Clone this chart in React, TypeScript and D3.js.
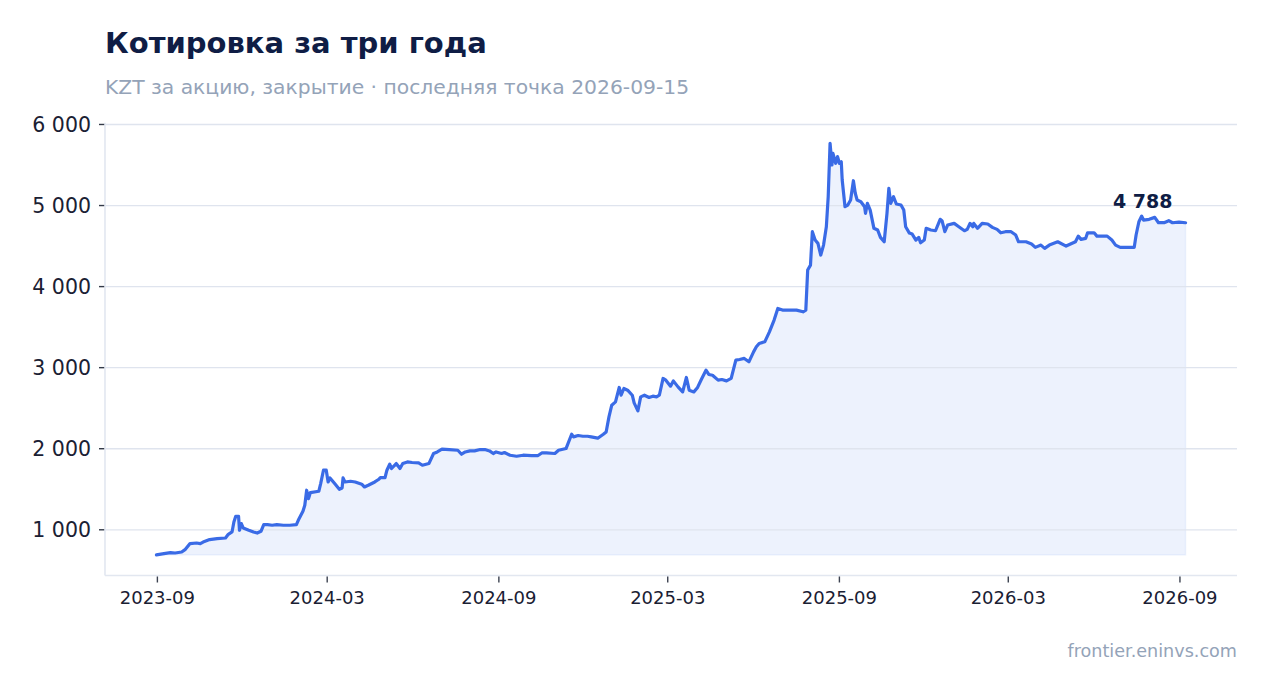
import React from 'react';
import * as d3 from 'd3';

const dates = [
  '2023-08-31', '2023-09-08', '2023-09-15', '2023-09-20', '2023-09-27', '2023-10-01', '2023-10-06', '2023-10-13',
  '2023-10-17', '2023-10-20', '2023-10-27', '2023-11-04', '2023-11-13', '2023-11-16', '2023-11-20', '2023-11-22',
  '2023-11-24', '2023-11-27', '2023-11-28', '2023-11-30', '2023-12-02', '2023-12-08', '2023-12-13', '2023-12-17',
  '2023-12-21', '2023-12-24', '2023-12-28', '2024-01-02', '2024-01-07', '2024-01-14', '2024-01-21', '2024-01-28',
  '2024-01-30', '2024-02-04', '2024-02-06', '2024-02-08', '2024-02-10', '2024-02-12', '2024-02-21', '2024-02-23',
  '2024-02-26', '2024-02-29', '2024-03-02', '2024-03-04', '2024-03-09', '2024-03-14', '2024-03-17', '2024-03-18',
  '2024-03-20', '2024-03-26', '2024-03-31', '2024-04-07', '2024-04-10', '2024-04-14', '2024-04-21', '2024-04-25',
  '2024-04-27', '2024-05-02', '2024-05-04', '2024-05-07', '2024-05-09', '2024-05-14', '2024-05-18', '2024-05-21',
  '2024-05-26', '2024-05-31', '2024-06-07', '2024-06-11', '2024-06-18', '2024-06-23', '2024-06-27', '2024-07-02',
  '2024-07-10', '2024-07-19', '2024-07-23', '2024-07-27', '2024-08-01', '2024-08-06', '2024-08-12', '2024-08-17',
  '2024-08-22', '2024-08-26', '2024-08-29', '2024-09-04', '2024-09-07', '2024-09-13', '2024-09-20', '2024-09-27',
  '2024-10-06', '2024-10-13', '2024-10-17', '2024-10-22', '2024-10-31', '2024-11-04', '2024-11-12', '2024-11-18',
  '2024-11-20', '2024-11-25', '2024-11-30', '2024-12-05', '2024-12-09', '2024-12-16', '2024-12-22', '2024-12-25',
  '2024-12-28', '2024-12-31', '2025-01-04', '2025-01-08', '2025-01-10', '2025-01-13', '2025-01-17', '2025-01-22',
  '2025-01-24', '2025-01-28', '2025-01-31', '2025-02-04', '2025-02-09', '2025-02-13', '2025-02-17', '2025-02-20',
  '2025-02-24', '2025-02-27', '2025-03-04', '2025-03-07', '2025-03-12', '2025-03-17', '2025-03-21', '2025-03-24',
  '2025-03-29', '2025-04-02', '2025-04-06', '2025-04-11', '2025-04-14', '2025-04-18', '2025-04-24', '2025-04-28',
  '2025-05-03', '2025-05-08', '2025-05-13', '2025-05-17', '2025-05-22', '2025-05-27', '2025-06-01', '2025-06-04',
  '2025-06-07', '2025-06-13', '2025-06-18', '2025-06-23', '2025-06-27', '2025-07-02', '2025-07-09', '2025-07-17',
  '2025-07-24', '2025-07-27', '2025-07-29', '2025-08-01', '2025-08-03', '2025-08-06', '2025-08-09', '2025-08-12',
  '2025-08-15', '2025-08-18', '2025-08-20', '2025-08-22', '2025-08-24', '2025-08-25', '2025-08-28', '2025-08-30',
  '2025-09-01', '2025-09-03', '2025-09-04', '2025-09-07', '2025-09-10', '2025-09-13', '2025-09-16', '2025-09-18',
  '2025-09-20', '2025-09-24', '2025-09-28', '2025-09-29', '2025-10-01', '2025-10-04', '2025-10-08', '2025-10-12',
  '2025-10-15', '2025-10-19', '2025-10-22', '2025-10-24', '2025-10-26', '2025-10-29', '2025-11-01', '2025-11-06',
  '2025-11-09', '2025-11-11', '2025-11-15', '2025-11-18', '2025-11-22', '2025-11-25', '2025-11-27', '2025-12-01',
  '2025-12-03', '2025-12-08', '2025-12-13', '2025-12-18', '2025-12-20', '2025-12-23', '2025-12-26', '2026-01-02',
  '2026-01-07', '2026-01-13', '2026-01-16', '2026-01-19', '2026-01-22', '2026-01-23', '2026-01-27', '2026-02-01',
  '2026-02-07', '2026-02-12', '2026-02-17', '2026-02-21', '2026-02-26', '2026-03-04', '2026-03-09', '2026-03-12',
  '2026-03-20', '2026-03-26', '2026-03-30', '2026-04-05', '2026-04-09', '2026-04-14', '2026-04-23', '2026-05-02',
  '2026-05-12', '2026-05-15', '2026-05-18', '2026-05-23', '2026-05-25', '2026-06-01', '2026-06-04', '2026-06-15',
  '2026-06-20', '2026-06-24', '2026-06-29', '2026-07-06', '2026-07-14', '2026-07-16', '2026-07-19', '2026-07-22',
  '2026-07-24', '2026-07-30', '2026-08-05', '2026-08-09', '2026-08-15', '2026-08-20', '2026-08-24', '2026-08-31',
  '2026-09-07',
];

const closes = [
  690, 705, 718, 714, 726, 759, 830, 837,
  830, 849, 879, 891, 899, 944, 973, 1096,
  1167, 1167, 994, 1077, 1022, 994, 973, 960,
  981, 1064, 1064, 1056, 1064, 1056, 1056, 1064,
  1117, 1228, 1302, 1488, 1385, 1459, 1475, 1570,
  1735, 1735, 1590, 1640, 1570, 1500, 1516, 1640,
  1590, 1599, 1590, 1562, 1528, 1549, 1590, 1620,
  1644, 1644, 1735, 1809, 1756, 1817, 1756, 1817,
  1837, 1830, 1825, 1796, 1817, 1941, 1960, 1994,
  1990, 1981, 1932, 1960, 1973, 1973, 1990, 1990,
  1973, 1941, 1960, 1941, 1953, 1920, 1907, 1920,
  1916, 1916, 1948, 1948, 1941, 1981, 2002, 2179,
  2146, 2163, 2154, 2154, 2146, 2130, 2179, 2207,
  2393, 2537, 2578, 2756, 2660, 2743, 2722, 2660,
  2565, 2467, 2640, 2660, 2632, 2648, 2640, 2660,
  2867, 2846, 2772, 2837, 2763, 2701, 2879, 2722,
  2701, 2756, 2854, 2969, 2916, 2907, 2846, 2854,
  2837, 2867, 3093, 3101, 3114, 3072, 3195, 3257,
  3299, 3319, 3442, 3587, 3731, 3710, 3710, 3710,
  3689, 3710, 4204, 4265, 4677, 4574, 4533, 4389,
  4512, 4738, 5109, 5768, 5500, 5645, 5521, 5603,
  5521, 5541, 5315, 4985, 5006, 5068, 5306, 5151,
  5068, 5047, 4985, 4904, 5027, 4944, 4719, 4698,
  4607, 4553, 4904, 5212, 5027, 5109, 5019, 5006,
  4944, 4738, 4660, 4648, 4574, 4607, 4541, 4574,
  4719, 4698, 4689, 4830, 4813, 4677, 4759, 4780,
  4738, 4689, 4706, 4780, 4738, 4780, 4719, 4780,
  4772, 4731, 4706, 4664, 4677, 4677, 4636, 4553,
  4553, 4525, 4484, 4512, 4472, 4512, 4553, 4500,
  4553, 4623, 4583, 4595, 4664, 4664, 4623, 4623,
  4574, 4512, 4484, 4484, 4484, 4636, 4800, 4870,
  4821, 4830, 4854, 4788, 4788, 4813, 4788, 4796,
  4788,
];

const xTickLabels = ['2023-09', '2024-03', '2024-09', '2025-03', '2025-09', '2026-03', '2026-09'];
const yTickValues = [1000, 2000, 3000, 4000, 5000, 6000];

const title = 'Котировка за три года';
const subtitle = 'KZT за акцию, закрытие · последняя точка 2026-09-15';
const source = 'frontier.eninvs.com';

const W = 1267;
const H = 693;
const left = 105;
const right = 1237;
const top = 122.7;
const bottom = 575.5;
const font = '"DejaVu Sans", sans-serif';

const parseDay = d3.utcParse('%Y-%m-%d');
const parseMonth = d3.utcParse('%Y-%m');
const fmt = (v: number) => d3.format(',')(v).replace(/,/g, ' ');

export default function App() {
  const points = dates.map((d, i) => ({ date: parseDay(d) as Date, value: closes[i] }));

  const [t0, t1] = d3.extent(points, (p) => +p.date) as [number, number];
  const tPad = (t1 - t0) * 0.05;
  const x = d3.scaleUtc().domain([new Date(t0 - tPad), new Date(t1 + tPad)]).range([left, right]);

  const [v0, v1] = d3.extent(closes) as [number, number];
  const vPad = (v1 - v0) * 0.05;
  const y = d3.scaleLinear().domain([v0 - vPad, v1 + vPad]).range([bottom, top]);

  const line = d3
    .line<{ date: Date; value: number }>()
    .x((p) => x(p.date))
    .y((p) => y(p.value));

  const area = d3
    .area<{ date: Date; value: number }>()
    .x((p) => x(p.date))
    .y0(y(v0))
    .y1((p) => y(p.value));

  const last = points[points.length - 1];
  const lx = x(last.date);
  const ly = y(last.value);

  return (
    <svg
      width={W}
      height={H}
      style={{ position: 'absolute', left: 0, top: 0, background: '#fff' }}
      fontFamily={font}
    >
      <text x={105} y={53} fontSize={29} fontWeight="bold" fill="#0f1d45">
        {title}
      </text>
      <text x={105} y={94} fontSize={20.3} fill="#94a3b8">
        {subtitle}
      </text>

      <path d={area(points) || ''} fill="#3b6ee8" fillOpacity={0.09} stroke="#3b6ee8" strokeOpacity={0.07} strokeWidth={1.5} />

      {yTickValues.map((v) => (
        <g key={v}>
          <line x1={left} x2={right} y1={y(v)} y2={y(v)} stroke="#dfe4ee" strokeWidth={1.3} />
          <line x1={left - 6} x2={left} y1={y(v)} y2={y(v)} stroke="#333a48" strokeWidth={1.4} />
          <text x={left - 14} y={y(v)} dy="0.35em" textAnchor="end" fontSize={20.5} fill="#1a2033">
            {fmt(v)}
          </text>
        </g>
      ))}

      <line x1={left} x2={left} y1={top} y2={bottom} stroke="#e2e7f0" strokeWidth={1.6} />
      <line x1={left} x2={right} y1={bottom} y2={bottom} stroke="#e2e7f0" strokeWidth={1.6} />

      {xTickLabels.map((m) => {
        const tx = x(parseMonth(m) as Date);
        return (
          <g key={m}>
            <line x1={tx} x2={tx} y1={bottom + 1} y2={bottom + 7} stroke="#3c4250" strokeWidth={1.4} />
            <text x={tx} y={604} textAnchor="middle" fontSize={18} fill="#1a2033">
              {m}
            </text>
          </g>
        );
      })}

      <path d={line(points) || ''} fill="none" stroke="#3a6be6" strokeWidth={3.2} strokeLinejoin="round" strokeLinecap="round" />

      <text x={lx - 13} y={ly - 15} textAnchor="end" fontSize={19} fontWeight="bold" fill="#0f1d45">
        {fmt(last.value)}
      </text>

      <text x={right} y={657} textAnchor="end" fontSize={17.6} fill="#94a3b8">
        {source}
      </text>
    </svg>
  );
}
